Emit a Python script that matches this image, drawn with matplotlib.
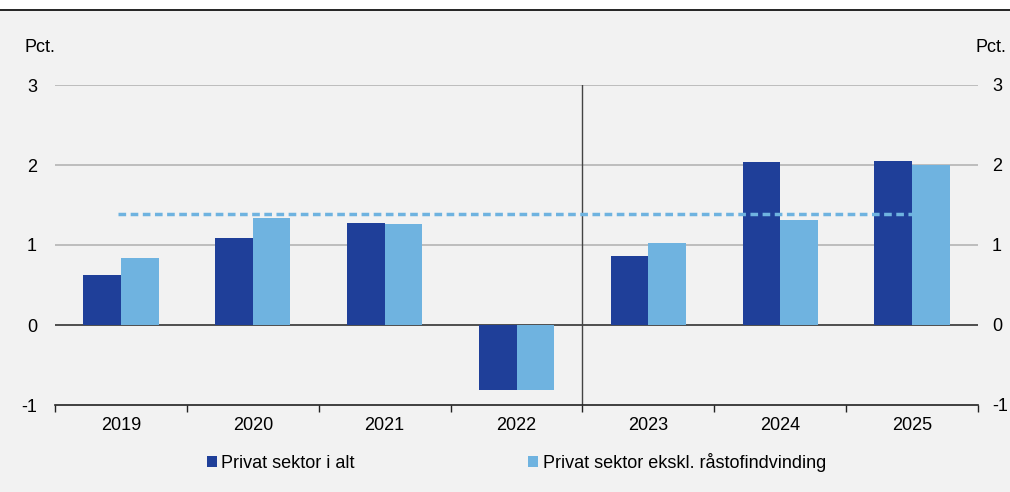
import numpy as np
import matplotlib.pyplot as plt
from matplotlib.lines import Line2D

years = ["2019", "2020", "2021", "2022", "2023", "2024", "2025"]
privat_i_alt = [0.63, 1.09, 1.28, -0.81, 0.86, 2.04, 2.05]
privat_ekskl = [0.84, 1.34, 1.26, -0.81, 1.03, 1.31, 2.00]
gennemsnit = 1.39
yticks = [-1, 0, 1, 2, 3]

dark = "#1f3f99"
light = "#6fb3e0"
bg = "#f2f2f2"
fs = 13

plt.rcParams['font.family'] = ['Liberation Sans', 'DejaVu Sans']

fig = plt.figure(figsize=(10.1, 4.92), dpi=100)
fig.patch.set_facecolor(bg)
# white strip and black rule at the top
fig.patches.append(plt.Rectangle((0, 1 - 10 / 492), 1, 10 / 492, transform=fig.transFigure,
                                 facecolor="white", edgecolor="none", zorder=0))
fig.lines.append(Line2D([0, 1], [1 - 10 / 492] * 2, transform=fig.transFigure,
                        color="black", lw=1.2))

ax = fig.add_axes([55 / 1010, 1 - 405 / 492, 923 / 1010, 320 / 492])
ax.set_facecolor(bg)

x = np.arange(len(years))
w = 0.285
ax.bar(x - w / 2, privat_i_alt, w, color=dark, label="Privat sektor i alt", zorder=3)
ax.bar(x + w / 2, privat_ekskl, w, color=light, label="Privat sektor ekskl. råstofindvinding", zorder=3)
ax.plot([x[0] - 0.02, x[-1]], [gennemsnit, gennemsnit], color=light, lw=2.5,
        ls=(0, (2.2, 1.3)), zorder=4)

ax.set_xlim(-0.5, len(years) - 0.5)
ax.set_ylim(-1, 3)
for v in [1, 2, 3]:
    ax.axhline(v, color="#b4b4b4", lw=1.2, zorder=1)
ax.axhline(0, color="#333333", lw=1.2, zorder=2)
ax.axvline(3.5, color="#444444", lw=1, zorder=2)

for s in ["top", "left", "right"]:
    ax.spines[s].set_visible(False)
ax.spines["bottom"].set_color("#222222")
ax.spines["bottom"].set_linewidth(1.2)

ax.set_xticks(np.arange(-0.5, len(years)), minor=False)
ax.set_xticklabels([])
ax.set_xticks(x, minor=True)
ax.set_xticklabels(years, minor=True, fontsize=fs)
ax.tick_params(axis="x", which="major", length=5, width=1, color="#222222", direction="out")
ax.tick_params(axis="x", which="minor", length=0, pad=9)

ax.set_yticks(yticks)
ax.set_yticklabels([str(v) for v in yticks], fontsize=fs)
ax.tick_params(axis="y", length=0, pad=13)

ax2 = ax.twinx()
ax2.set_ylim(ax.get_ylim())
ax2.set_yticks(yticks)
ax2.set_yticklabels([str(v) for v in yticks], fontsize=fs)
ax2.tick_params(axis="y", length=0, pad=10)
for s in ax2.spines.values():
    s.set_visible(False)

fig.text(24 / 1010, 1 - 47 / 492, "Pct.", fontsize=fs, va="center", ha="left")
fig.text(1006 / 1010, 1 - 47 / 492, "Pct.", fontsize=fs, va="center", ha="right")

ax.legend(loc="upper left", bbox_to_anchor=(0.147, -0.1), ncol=2, frameon=False,
          fontsize=fs, handlelength=0.55, handleheight=0.55, handletextpad=0.25,
          columnspacing=9.6)

fig.savefig("out.png", dpi=100, facecolor=fig.get_facecolor())
